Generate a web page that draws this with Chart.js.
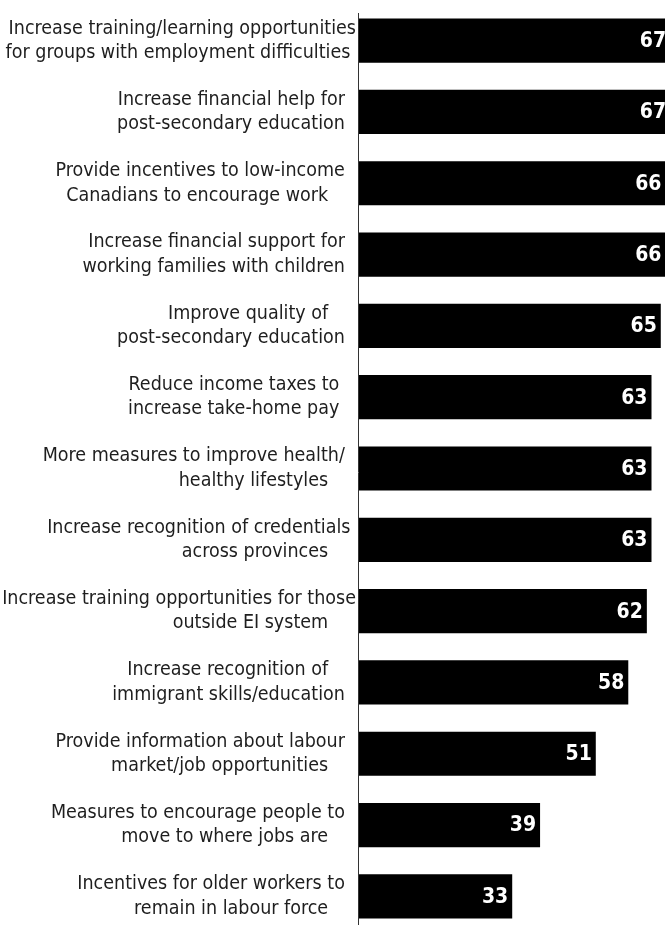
<!DOCTYPE html>
<html>
<head>
<meta charset="utf-8">
<script src="https://cdn.jsdelivr.net/npm/chart.js@4/dist/chart.umd.min.js"></script>
<style>
  html, body { margin: 0; padding: 0; background: #fff; overflow: hidden; }
  #wrap { position: relative; width: 684px; height: 932px; }
</style>
</head>
<body>
<div id="wrap"><canvas id="chart"></canvas></div>
<script>
// Support for each measure (%), top to bottom.
// Trailing spaces keep the shorter lines set in from the axis.
const measures = [
  ['Increase training/learning opportunities', 'for groups with employment difficulties '],
  ['Increase financial help for  ', 'post-secondary education  '],
  ['Provide incentives to low-income  ', 'Canadians to encourage work     '],
  ['Increase financial support for  ', 'working families with children  '],
  ['Improve quality of     ', 'post-secondary education  '],
  ['Reduce income taxes to   ', 'increase take-home pay   '],
  ['More measures to improve health/  ', 'healthy lifestyles     '],
  ['Increase recognition of credentials ', 'across provinces     '],
  ['Increase training opportunities for those', 'outside EI system     '],
  ['Increase recognition of     ', 'immigrant skills/education  '],
  ['Provide information about labour  ', 'market/job opportunities     '],
  ['Measures to encourage people to  ', 'move to where jobs are     '],
  ['Incentives for older workers to  ', 'remain in labour force     ']
];
const support = [67, 67, 66, 66, 65, 63, 63, 63, 62, 58, 51, 39, 33];

const labelFont = '"Liberation Sans Narrow", "Arial Narrow", "DejaVu Sans Condensed", sans-serif';
const AXIS_TOP = 13;

// value printed in white at the end of each bar
const valueLabels = {
  id: 'valueLabels',
  afterDatasetsDraw(chart) {
    const ctx = chart.ctx;
    const meta = chart.getDatasetMeta(0);
    ctx.save();
    ctx.fillStyle = '#fff';
    ctx.font = 'bold 21px ' + labelFont;
    ctx.textAlign = 'right';
    ctx.textBaseline = 'middle';
    meta.data.forEach((bar, i) => {
      ctx.fillText(String(support[i]), bar.x - 4, bar.y + 1);
    });
    ctx.restore();
  }
};

// vertical axis line
const axisLine = {
  id: 'axisLine',
  afterDraw(chart) {
    const ctx = chart.ctx;
    const x = Math.round(chart.chartArea.left) - 0.5;
    ctx.save();
    ctx.strokeStyle = '#333';
    ctx.lineWidth = 1;
    ctx.beginPath();
    ctx.moveTo(x, AXIS_TOP);
    ctx.lineTo(x, chart.height);
    ctx.stroke();
    ctx.restore();
  }
};

new Chart(document.getElementById('chart'), {
  type: 'bar',
  data: {
    labels: measures,
    datasets: [{
      data: support,
      backgroundColor: '#000',
      borderWidth: 0,
      barPercentage: 0.62,
      categoryPercentage: 1
    }]
  },
  options: {
    indexAxis: 'y',
    responsive: true,
    maintainAspectRatio: false,
    animation: false,
    layout: { padding: { top: 5, right: 0, bottom: 0, left: 0 } },
    plugins: {
      legend: { display: false },
      tooltip: { enabled: false }
    },
    scales: {
      x: {
        display: false,
        min: 0,
        max: 70
      },
      y: {
        grid: { display: false, drawTicks: false },
        border: { display: false },
        afterFit(scale) {
          scale.width = 359;
          scale.paddingTop = 0;
          scale.paddingBottom = 0;
        },
        ticks: {
          color: '#1e1e1e',
          padding: 3,
          font: { family: labelFont, size: 19.5, lineHeight: 1.25 }
        }
      }
    }
  },
  plugins: [valueLabels, axisLine]
});
</script>
</body>
</html>
